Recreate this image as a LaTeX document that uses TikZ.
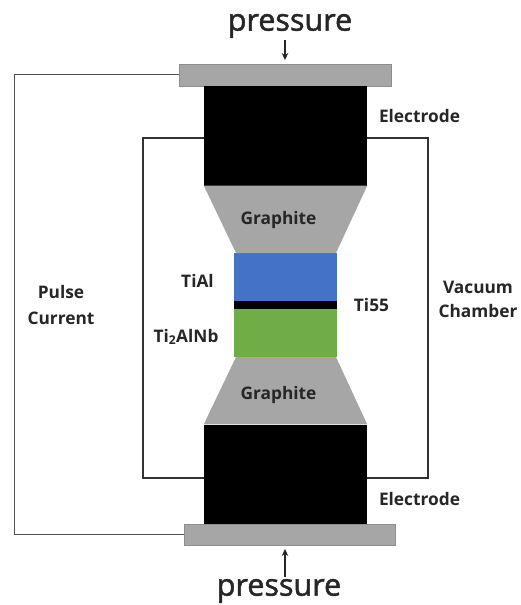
\documentclass[tikz,border=0pt]{standalone}
\usepackage{fontspec}
\setmainfont{Open Sans}
\newfontfamily\bigfont[FakeBold=1.6]{Open Sans}
\usetikzlibrary{arrows.meta}
\definecolor{plategray}{RGB}{166,166,166}
\definecolor{blueblk}{RGB}{68,114,196}
\definecolor{greenblk}{RGB}{112,173,71}
\definecolor{wire}{RGB}{50,50,50}
\definecolor{inkc}{RGB}{38,38,38}
\tikzset{
  px/.style={x=1pt,y=-1pt},
  plate/.style={draw=plategray!85!black,line width=.5pt,fill=plategray,inner sep=0pt,minimum width=#1,minimum height=21.5pt},
  solid block/.style={fill=black,draw=none,inner sep=0pt,minimum width=163pt,minimum height=99.5pt},
  sample/.style={fill=#1,draw=none,inner sep=0pt,minimum width=103pt},
  graphite/.style={fill=plategray,draw=none},
  lbl/.style={font=\fontsize{17.3}{20}\selectfont\bfseries,text=inkc,inner sep=0pt,align=center},
  big/.style={font=\bigfont\fontsize{30.5}{34}\selectfont,text=inkc,inner sep=0pt},
  wireline/.style={draw=wire,line width=1.1pt,line join=miter},
  thin wire/.style={draw=wire!85,line width=.8pt,line join=miter},
  parrow/.style={draw=black!85,line width=1.1pt,-{Stealth[length=7pt,width=6.5pt]}}
}
\begin{document}
\begin{tikzpicture}[px]
\useasboundingbox (0,0) rectangle (521,605);
\fill[white] (0,0) rectangle (521,605);
\coordinate (chTL) at (143,138);
\coordinate (chTR) at (428,138);
\coordinate (chBL) at (143,478);
\coordinate (chBR) at (428,478);
\coordinate (pulseTL) at (14,74.5);
\coordinate (pulseBL) at (14,534);
\node[plate=211.5pt] (topplate) at (285.25,75) {};
\node[plate=211.5pt] (botplate) at (289.5,534.5) {};
\node[solid block] (topel) at (285.5,135.75) {};
\node[solid block] (botel) at (285.5,474.25) {};
\node[sample=blueblk,minimum height=48pt] (tial) at (285.5,277) {};
\node[sample=black,minimum height=8pt] (ti55) at (285.5,305) {};
\node[sample=greenblk,minimum height=48pt] (tinb) at (285.5,333) {};
\fill[graphite] (topel.south west) -- (topel.south east) -- (336,253) -- (236,253) -- cycle;
\fill[graphite] (botel.north west) -- (botel.north east) -- (336,357) -- (236,357) -- cycle;
\draw[wireline] (topel.west |- chTL) -- (chTL) -- (chBL) -- (botel.west |- chBL);
\draw[wireline] (topel.east |- chTR) -- (chTR) -- (chBR) -- (botel.east |- chBR);
\draw[thin wire] (topplate.west |- pulseTL) -- (pulseTL) -- (pulseBL) -- (botplate.west |- pulseBL);
\node[big] (ptop) at (290,26) {pressure};
\node[big] (pbot) at (279,591) {pressure};
\coordinate (ptopend) at (285,60);
\coordinate (pbotend) at (285,549);
\draw[parrow] (285,40) -- (ptopend);
\draw[parrow] (285,577) -- (pbotend);
\node[lbl] (g1) at (278.5,220) {Graphite};
\node[lbl] (g2) at (278.5,395) {Graphite};
\node[lbl] (e1) at (419.5,116) {Electrode};
\node[lbl] (e2) at (419.5,499) {Electrode};
\node[lbl] (a) at (197.5,281) {TiAl};
\node[lbl] (b) at (186,337) {Ti\textsubscript{2}AlNb};
\node[lbl] (c) at (371.5,305) {Ti55};
\node[lbl] (d) at (61,305) {Pulse\\[6pt]Current};
\node[lbl] (e) at (478,299) {Vacuum\\[4pt]Chamber};
\end{tikzpicture}
\end{document}
